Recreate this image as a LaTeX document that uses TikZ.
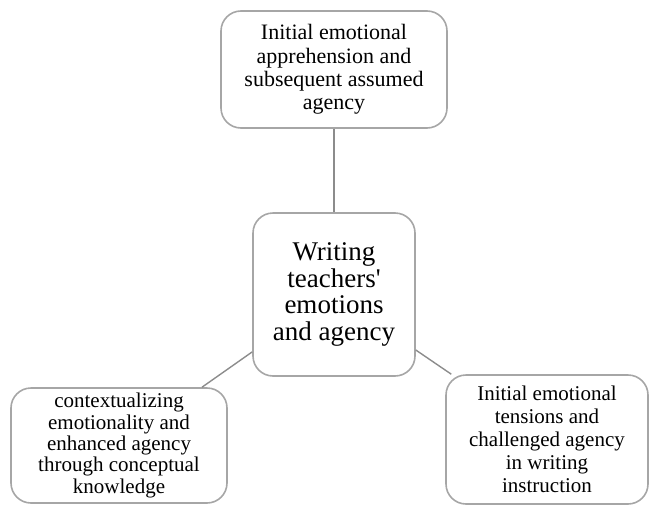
\documentclass[tikz,border=0pt]{standalone}
\usepackage{fontspec}
\setmainfont{Liberation Serif}
\usepackage{xcolor}
\usetikzlibrary{positioning}
\definecolor{boxgray}{HTML}{A6A6A6}
\definecolor{linkgray}{HTML}{8C8C8C}

\begin{document}
\begin{tikzpicture}[
    x=1pt, y=-1pt,
    themebox/.style={draw=boxgray, line width=1.6pt, fill=white, rounded corners=20pt, align=center, inner sep=0pt, font=\fontsize{21}{23}\selectfont},
    corebox/.style={themebox, font=\fontsize{27}{26.5}\selectfont},
    link/.style={draw=linkgray, line width=1.4pt}
]
\useasboundingbox (0,0) rectangle (650,506);
\node[themebox, minimum width=226pt, minimum height=117pt, font=\fontsize{22}{23.3}\selectfont] (apprehension) at (334,69.5) {Initial emotional\\apprehension and\\subsequent assumed\\agency};
\node[corebox, minimum width=162pt, minimum height=163pt] (core) at (334,294.5) {Writing\\teachers\textquotesingle\\emotions\\and agency};
\node[themebox, minimum width=216pt, minimum height=115pt, font=\fontsize{21}{21.3}\selectfont] (context) at (119,445.5) {contextualizing\\emotionality and\\enhanced agency\\through conceptual\\knowledge};
\node[themebox, minimum width=202pt, minimum height=129pt] (tensions) at (547,439.5) {Initial emotional\\tensions and\\challenged agency\\in writing\\instruction};

\draw[link] (apprehension) -- (core);
\draw[link] (core) -- (context);
\draw[link] (core) -- (tensions);
\end{tikzpicture}
\end{document}
